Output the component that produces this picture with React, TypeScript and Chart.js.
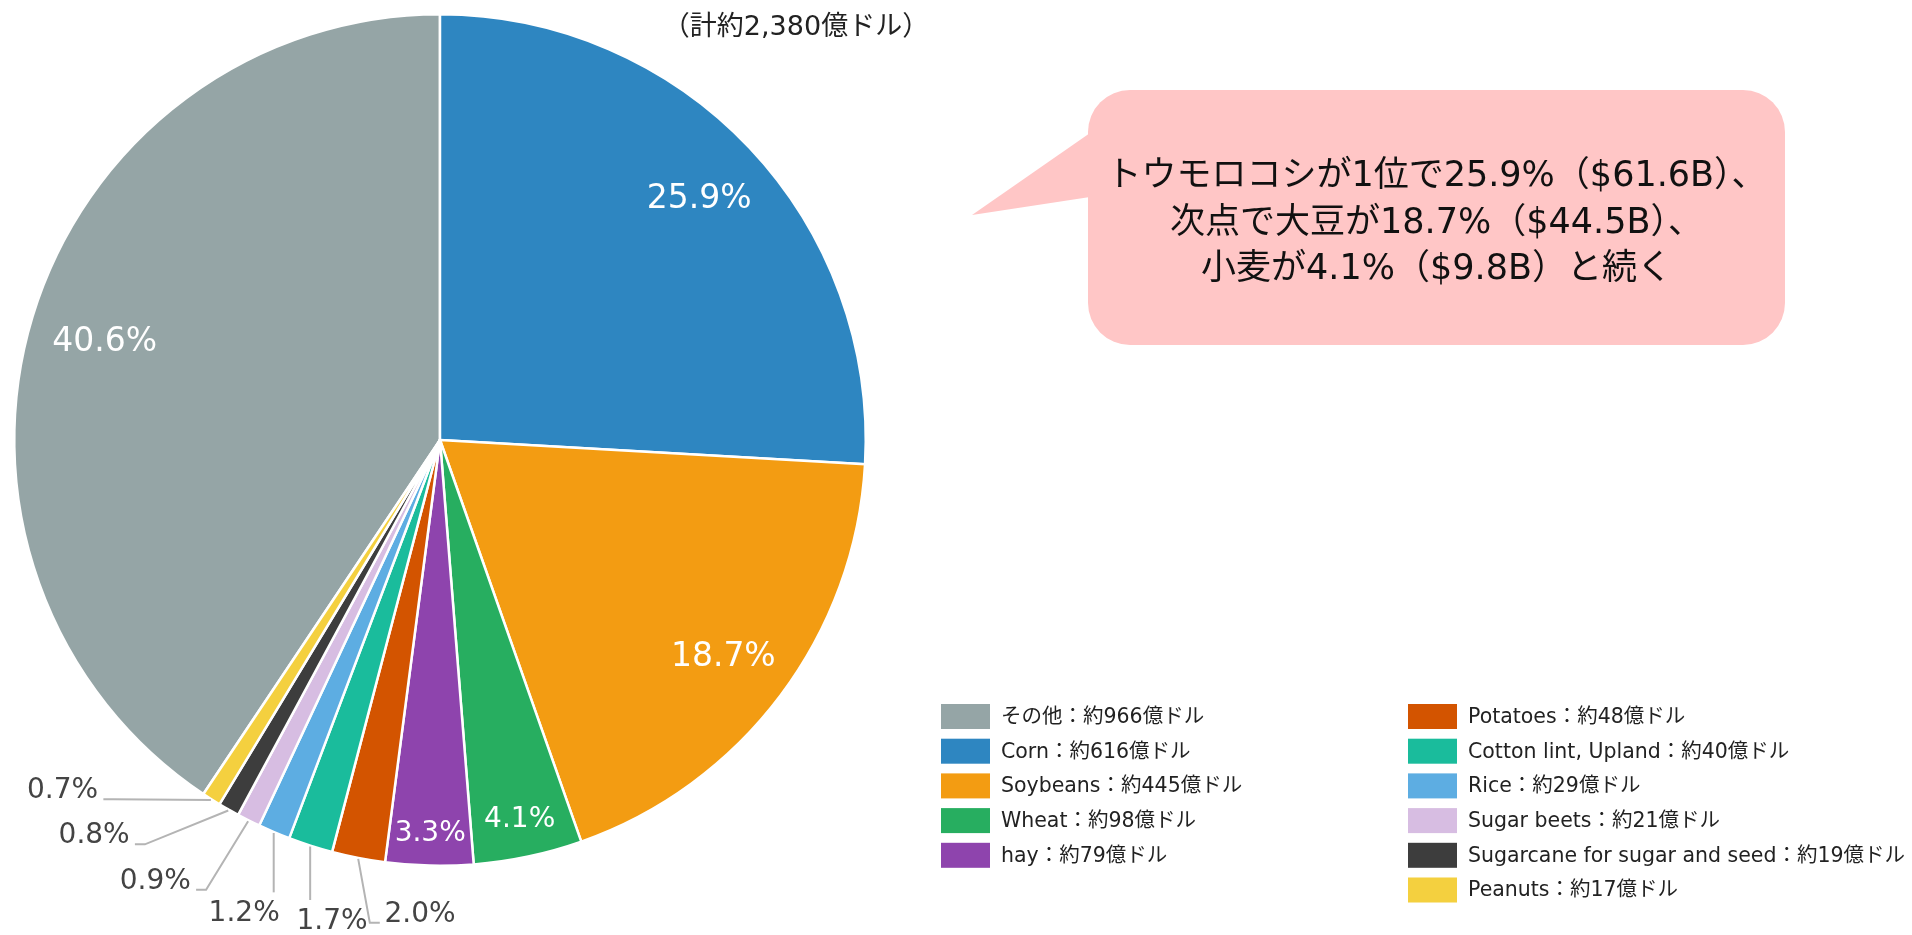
import { useEffect, useRef } from "react";
import { Chart, registerables } from "chart.js";
Chart.register(...registerables);

// ---- data ----
const LABELS = ["その他", "Corn", "Soybeans", "Wheat", "hay", "Potatoes", "Cotton lint, Upland", "Rice", "Sugar beets", "Sugarcane for sugar and seed", "Peanuts"];
const VALUES = [966, 616, 445, 98, 79, 48, 40, 29, 21, 19, 17]; // 億ドル
const COLORS = ["#95a5a6", "#2e86c1", "#f39c12", "#27ae60", "#8e44ad", "#d35400", "#1abc9c", "#5dade2", "#d7bde2", "#3d3d3d", "#f4d03f"];
const TITLE = "（計約2,380億ドル）";
const CALLOUT_LINES = ["トウモロコシが1位で25.9%（$61.6B）、", "次点で大豆が18.7%（$44.5B）、", "小麦が4.1%（$9.8B）と続く"];
const LEGEND_COLUMN_SPLIT = 5;
const VALUE_PREFIX = "約";
const VALUE_UNIT = "億ドル";

const W = 1912;
const H = 935;
const FONT = '"DejaVu Sans", "Noto Sans CJK JP", sans-serif';
const LABEL_FONT = '"DejaVu Sans", sans-serif';

const TOTAL = VALUES.reduce((a, b) => a + b, 0);

function pctText(v: number) {
  return ((v / TOTAL) * 100).toFixed(1) + "%";
}

function normAngle(a: number, s: number) {
  while (a < s) a += Math.PI * 2;
  while (a >= s + Math.PI * 2) a -= Math.PI * 2;
  return a;
}

function fitInside(ctx: CanvasRenderingContext2D, r: number, s: number, e: number, text: string) {
  const tries: [number, number][] = [[33, 8], [28, 1]];
  const mid = (s + e) / 2;
  const ux = Math.cos(mid), uy = Math.sin(mid);
  for (const [fs, margin] of tries) {
    ctx.font = `${fs}px ${LABEL_FONT}`;
    const m = ctx.measureText(text);
    const w = m.actualBoundingBoxLeft + m.actualBoundingBoxRight;
    const asc = m.actualBoundingBoxAscent, desc = m.actualBoundingBoxDescent;
    const hw = w / 2 + 2, hh = (asc + desc) / 2 + 2;
    for (let d = r * 0.95; d > r * 0.3; d -= 1) {
      const px = ux * d, py = uy * d;
      let ok = true;
      for (const [sx, sy] of [[-1, -1], [1, -1], [1, 1], [-1, 1]]) {
        const qx = px + sx * hw, qy = py + sy * hh;
        const dist = Math.hypot(qx, qy);
        if (dist > r - 20) { ok = false; break; }
        const a = normAngle(Math.atan2(qy, qx), s);
        const delta = margin / dist;
        if (a < s + delta || a > e - delta) { ok = false; break; }
      }
      if (ok) return { fs, dx: px, dy: py, w, asc, desc };
    }
  }
  return null;
}

const pieLabelPlugin = {
  id: "pieLabels",
  afterDatasetsDraw(chart: any) {
    const ctx: CanvasRenderingContext2D = chart.ctx;
    const meta = chart.getDatasetMeta(0);
    const outside: any[] = [];
    ctx.save();
    meta.data.forEach((arc: any, i: number) => {
      const p = arc.getProps(["x", "y", "startAngle", "endAngle", "outerRadius"], true);
      const text = pctText(VALUES[i]);
      const fit = fitInside(ctx, p.outerRadius, p.startAngle, p.endAngle, text);
      if (fit) {
        ctx.font = `${fit.fs}px ${LABEL_FONT}`;
        ctx.fillStyle = "#ffffff";
        ctx.textAlign = "center";
        ctx.textBaseline = "alphabetic";
        ctx.fillText(text, p.x + fit.dx, p.y + fit.dy + (fit.asc - fit.desc) / 2);
      } else {
        outside.push({ i, text, cx: p.x, cy: p.y, r: p.outerRadius, mid: (p.startAngle + p.endAngle) / 2 });
      }
    });

    // outside labels: fan them out around the rim, pushing crowded ones outwards
    const fs = 28;
    const GAP = 34, PADX = 10, PADY = 12;
    const maxBottom = chart.height - 6;
    ctx.font = `${fs}px ${LABEL_FONT}`;
    outside.forEach((o) => {
      const m = ctx.measureText(o.text);
      o.w = m.actualBoundingBoxLeft + m.actualBoundingBoxRight;
      o.h = m.actualBoundingBoxAscent;
      o.phi = o.mid;
      o.extra = 0;
    });
    const place = (o: any) => {
      const c = Math.cos(o.phi), s = Math.sin(o.phi);
      let d = o.r + GAP + o.extra + (o.w / 2) * Math.abs(c) + (o.h / 2) * Math.abs(s);
      if (s > 0 && o.cy + d * s + o.h / 2 > maxBottom) d = (maxBottom - o.h / 2 - o.cy) / s;
      const x = o.cx + d * c, y = o.cy + d * s;
      return { x, y, L: x - o.w / 2, R: x + o.w / 2, T: y - o.h / 2, B: y + o.h / 2 };
    };
    const overlap = (a: any, b: any) =>
      a.L - PADX < b.R + PADX && b.L - PADX < a.R + PADX && a.T - PADY < b.B + PADY && b.T - PADY < a.B + PADY;
    outside.sort((a, b) => a.phi - b.phi);
    const step = 0.001;
    for (let it = 0; it < 8000; it++) {
      let moved = false;
      for (let k = 0; k < outside.length - 1; k++) {
        if (overlap(place(outside[k]), place(outside[k + 1]))) {
          outside[k].phi -= step * 0.6;
          outside[k + 1].phi += step * 0.75;
          outside[k + 1].extra += 0.06;
          moved = true;
        }
      }
      if (!moved) break;
    }
    outside.forEach((o) => {
      const b = place(o);
      const ax = o.cx + (o.r + 1) * Math.cos(o.mid);
      const ay = o.cy + (o.r + 1) * Math.sin(o.mid);
      ctx.strokeStyle = "#b4b4b4";
      ctx.lineWidth = 2;
      ctx.beginPath();
      ctx.moveTo(ax, ay);
      if (ax > b.R + 6) {
        const ex = Math.min(b.R + 16, ax);
        ctx.lineTo(ex, b.B + 1);
        ctx.lineTo(b.R + 6, b.B + 1);
      } else if (ax < b.L - 6) {
        const ex = Math.max(b.L - 16, ax);
        ctx.lineTo(ex, b.B + 1);
        ctx.lineTo(b.L - 6, b.B + 1);
      } else {
        ctx.lineTo(ax, b.T - 8);
      }
      ctx.stroke();
      ctx.fillStyle = "#444444";
      ctx.font = `${fs}px ${LABEL_FONT}`;
      ctx.textAlign = "center";
      ctx.textBaseline = "alphabetic";
      ctx.fillText(o.text, b.x, b.B);
    });
    ctx.restore();
  },
};

const decorPlugin = {
  id: "decor",
  afterDraw(chart: any) {
    const ctx: CanvasRenderingContext2D = chart.ctx;
    ctx.save();
    // title
    ctx.font = `27px ${FONT}`;
    ctx.fillStyle = "#222222";
    ctx.textAlign = "center";
    ctx.textBaseline = "middle";
    ctx.fillText(TITLE, 796, 28);

    // callout bubble
    const bx = 1088, by = 90, bw = 697, bh = 255, br = 42;
    ctx.fillStyle = "#ffc6c6";
    ctx.beginPath();
    (ctx as any).roundRect(bx, by, bw, bh, br);
    ctx.fill();
    ctx.beginPath();
    ctx.moveTo(bx + 2, 133);
    ctx.lineTo(972, 215);
    ctx.lineTo(bx + 2, 197);
    ctx.closePath();
    ctx.fill();
    ctx.font = `35px ${FONT}`;
    ctx.fillStyle = "#111111";
    ctx.textAlign = "center";
    ctx.textBaseline = "middle";
    CALLOUT_LINES.forEach((line, k) => {
      ctx.fillText(line, bx + bw / 2, 177 + k * 46.5);
    });

    // legend
    const colX = [941, 1408];
    const rowY0 = 716.5, rowGap = 34.7;
    ctx.font = `20.5px ${FONT}`;
    ctx.textAlign = "left";
    ctx.textBaseline = "middle";
    LABELS.forEach((lab, i) => {
      const col = i < LEGEND_COLUMN_SPLIT ? 0 : 1;
      const row = col === 0 ? i : i - LEGEND_COLUMN_SPLIT;
      const x = colX[col];
      const y = rowY0 + row * rowGap;
      ctx.fillStyle = COLORS[i];
      ctx.fillRect(x, y - 12.5, 49, 25);
      ctx.fillStyle = "#222222";
      ctx.fillText(`${lab}：${VALUE_PREFIX}${VALUES[i]}${VALUE_UNIT}`, x + 60, y + 1);
    });
    ctx.restore();
  },
};

export default function App() {
  const ref = useRef<HTMLCanvasElement | null>(null);
  useEffect(() => {
    if (!ref.current) return;
    const size = 854;
    const left = 13, top = 13;
    const chart = new Chart(ref.current, {
      type: "pie",
      data: {
        labels: LABELS,
        datasets: [
          {
            data: VALUES,
            backgroundColor: COLORS,
            borderColor: "#ffffff",
            borderWidth: 2.5,
          },
        ],
      },
      options: {
        responsive: false,
        animation: false,
        events: [],
        rotation: -(VALUES[0] / TOTAL) * 360,
        layout: { padding: { left, top, right: W - left - size, bottom: H - top - size } },
        plugins: { legend: { display: false }, tooltip: { enabled: false }, title: { display: false } },
      },
      plugins: [pieLabelPlugin, decorPlugin],
    } as any);
    return () => chart.destroy();
  }, []);
  return (
    <div style={{ position: "absolute", left: 0, top: 0, width: W, height: H, background: "#ffffff" }}>
      <canvas ref={ref} width={W} height={H} style={{ display: "block", width: W, height: H }} />
    </div>
  );
}
